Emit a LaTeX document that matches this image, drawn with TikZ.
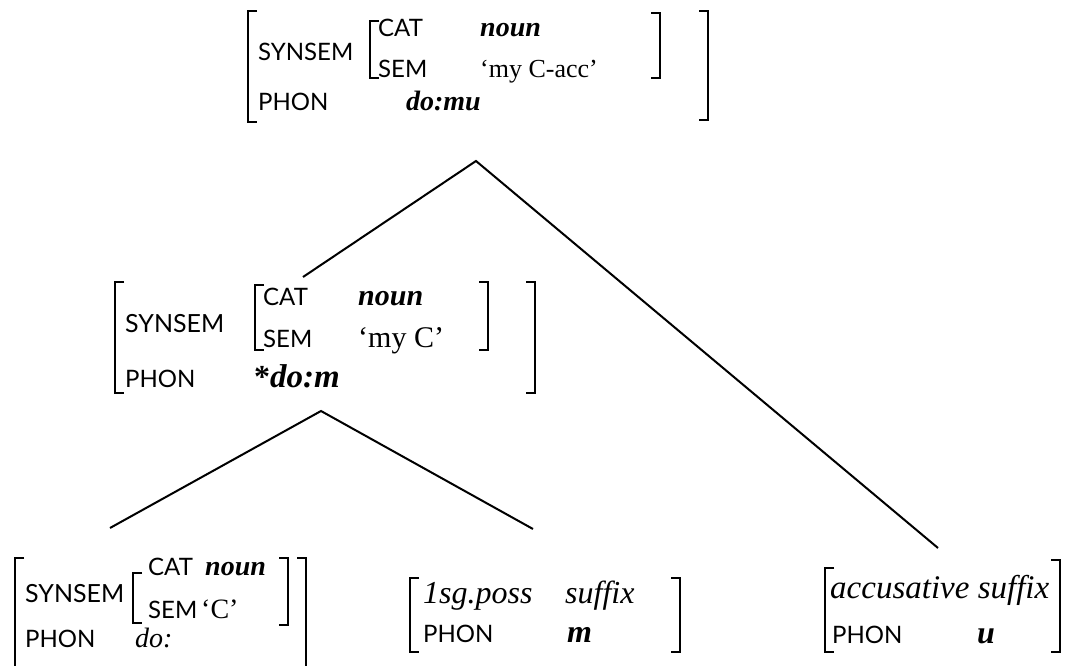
\documentclass[tikz,border=0pt]{standalone}
\usepackage{fontspec}
\setmainfont{Liberation Serif}
\newfontfamily\labfont{Lato}
\tikzset{
  brk/.style={line width=1.7pt, line cap=butt, line join=miter},
  edge/.style={line width=2pt},
  lab/.style={anchor=base west, inner sep=0pt, font=\labfont\fontsize{24}{24}\selectfont},
  labm/.style={anchor=base west, inner sep=0pt, font=\labfont\fontsize{25}{25}\selectfont},
  val/.style={anchor=base west, inner sep=0pt, font=\fontsize{28}{28}\selectfont},
  vbi/.style={anchor=base west, inner sep=0pt, font=\fontsize{28}{28}\selectfont\bfseries\itshape},
  vit/.style={anchor=base west, inner sep=0pt, font=\fontsize{28}{28}\selectfont\itshape},
  big/.style={anchor=base west, inner sep=0pt, font=\fontsize{32}{32}\selectfont\itshape},
  bigb/.style={anchor=base west, inner sep=0pt, font=\fontsize{32}{32}\selectfont\bfseries\itshape}
}
\newcommand\lbrk[3]{\draw[brk] (#1+9,#2) -- (#1,#2) -- (#1,#3) -- (#1+9,#3);}
\newcommand\rbrk[3]{\draw[brk] (#1-9,#2) -- (#1,#2) -- (#1,#3) -- (#1-9,#3);}
\begin{document}
\begin{tikzpicture}[x=1pt,y=-1pt]
\useasboundingbox (0,0) rectangle (1068,666);
\fill[white] (0,0) rectangle (1068,666);
% ---------- top box ----------
\lbrk{248}{11}{122}
\rbrk{708}{11}{120}
\lbrk{370}{21}{78}
\rbrk{660}{13}{78}
\node[lab] (tsyn) at (258,61) {SYNSEM};
\node[lab] (tcat) at (378,37) {CAT};
\node[vbi] (tnoun) at (480,37) {noun};
\node[val, font=\fontsize{26}{26}\selectfont] (tsemv) at (480,78) {‘my C-acc’};
\node[lab] (tsem) at (378,78) {SEM};
\node[lab] (tphon) at (258,111) {PHON};
\node[vbi, anchor=base east] (tphonv) at (481,111) {do:mu};
% ---------- middle box ----------
\lbrk{115}{282}{393}
\rbrk{535}{282}{393}
\lbrk{255}{285}{350}
\rbrk{488}{282}{350}
\node[labm] (msyn) at (125,332) {SYNSEM};
\node[lab] (mcat) at (263,305) {CAT};
\node[vbi, font=\fontsize{30}{30}\selectfont\bfseries\itshape] (mnoun) at (358,305) {noun};
\node[lab] (msem) at (263,347) {SEM};
\node[val, font=\fontsize{30}{30}\selectfont] (msemv) at (358,347) {‘my C’};
\node[lab] (mphon) at (125,387) {PHON};
\node[val, font=\fontsize{32}{32}\selectfont\bfseries] (mstar) at (254,387) {*};
\node[vbi, font=\fontsize{33}{33}\selectfont\bfseries\itshape] (mphonv) at (270,387) {do:m};
% ---------- bottom left box ----------
\lbrk{15}{558}{680}
\rbrk{306}{558}{680}
\lbrk{133}{573}{623}
\rbrk{288}{558}{625}
\node[labm] (asyn) at (25,602) {SYNSEM};
\node[lab] (acat) at (148,575) {CAT};
\node[vbi] (anoun) at (205,575) {noun};
\node[lab] (asem) at (148,618) {SEM};
\node[val] (asemv) at (201,618) {‘C’};
\node[lab] (aphon) at (25,647) {PHON};
\node[vit] (aphonv) at (135,647) {do:};
% ---------- bottom middle box ----------
\lbrk{410}{578}{652}
\rbrk{680}{578}{652}
\node[big] (bposs) at (423,603) {1sg.poss};
\node[big] (bsuf) at (565,603) {suffix};
\node[lab] (bphon) at (423,642) {PHON};
\node[bigb] (bphonv) at (567,642) {m};
% ---------- bottom right box ----------
\lbrk{825}{568}{652}
\rbrk{1060}{560}{652}
\node[big, font=\fontsize{33}{33}\selectfont\itshape] (cacc) at (830,598) {accusative suffix};
\node[lab] (cphon) at (832,643) {PHON};
\node[bigb] (cphonv) at (977,643) {u};
% ---------- tree lines ----------
\coordinate (apexT) at (476,161);
\coordinate (endTL) at (303,277);
\coordinate (endTR) at (938,548);
\coordinate (apexM) at (321,411);
\coordinate (endML) at (110,528);
\coordinate (endMR) at (533,529);
\draw[edge] (endTL) -- (apexT) -- (endTR);
\draw[edge] (endML) -- (apexM) -- (endMR);
\end{tikzpicture}
\end{document}
